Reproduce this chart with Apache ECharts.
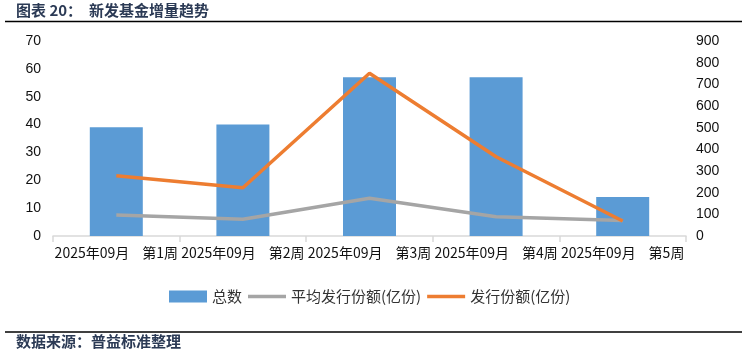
<!DOCTYPE html>
<html>
<head>
<meta charset="utf-8">
<script src="https://cdn.jsdelivr.net/npm/echarts@6/dist/echarts.min.js"></script>
<style>
  html, body { margin: 0; padding: 0; background: #fff; }
  #box { width: 747px; height: 353px; }
</style>
</head>
<body>
<div id="box"></div>
<script>
// 新发基金增量趋势 --------------------------------------------------
var months = ['2025年09月', '2025年09月', '2025年09月', '2025年09月', '2025年09月'];
var weeks = ['第1周', '第2周', '第3周', '第4周', '第5周'];
var fundCount = [39, 40, 57, 57, 14];          // 总数 (左轴)
var avgShares = [97, 77, 174, 89, 72];         // 平均发行份额(亿份) (右轴)
var totalShares = [278, 223, 751, 366, 69];    // 发行份额(亿份) (右轴)
var categories = months.map(function (m, i) { return m + '|' + weeks[i]; });

var lineIcon = 'path://M0,0 L38,0 L38,3.5 L0,3.5 Z'; // 图例中的线段

var myChart = echarts.init(document.getElementById('box'));
var option = {
    animation: false,
    grid: { left: 53, right: 61, top: 41, bottom: 117 },
    graphic: [
        { type: 'text', left: 16, top: 3, style: { text: '图表 20：', font: 'bold 15px "Noto Sans CJK SC"', fill: '#2b3a55' } },
        { type: 'text', left: 89, top: 3, style: { text: '新发基金增量趋势', font: 'bold 15px "Noto Sans CJK SC"', fill: '#2b3a55' } },
        { type: 'line', shape: { x1: 5, y1: 21.5, x2: 742, y2: 21.5 }, style: { stroke: '#000', lineWidth: 1.5 } },
        { type: 'line', shape: { x1: 5, y1: 332, x2: 742, y2: 332 }, style: { stroke: '#000', lineWidth: 1.5 } },
        { type: 'text', left: 16, top: 334, style: { text: '数据来源：普益标准整理', font: 'bold 15px "Noto Sans CJK SC"', fill: '#2b3a55' } }
    ],
    legend: {
        left: 164,
        top: 284,
        itemWidth: 38,
        itemHeight: 12,
        itemGap: 6,
        symbolKeepAspect: true,
        textStyle: { fontFamily: '"Noto Sans CJK SC"', fontSize: 15, color: '#333' },
        data: [
            { name: '总数', icon: 'rect' },
            { name: '平均发行份额(亿份)', icon: lineIcon },
            { name: '发行份额(亿份)', icon: lineIcon }
        ]
    },
    xAxis: {
        type: 'category',
        data: categories,
        axisLine: { lineStyle: { color: '#d9d9d9', width: 1.5 } },
        axisTick: { show: true, length: 6, lineStyle: { color: '#d9d9d9', width: 1.5 } },
        axisLabel: {
            interval: 0,
            margin: 10,
            formatter: function (v) {
                var p = v.split('|');
                return '{a|' + p[0] + '}{b|' + p[1] + '}';
            },
            rich: {
                a: { fontFamily: '"Noto Sans CJK SC"', fontSize: 14, color: '#111' },
                b: { fontFamily: '"Noto Sans CJK SC"', fontSize: 14, color: '#111', padding: [0, 0, 0, 13] }
            }
        }
    },
    yAxis: [
        {
            type: 'value',
            min: 0, max: 70, interval: 10,
            axisLine: { show: false },
            axisTick: { show: false },
            splitLine: { show: false },
            axisLabel: { margin: 12, fontFamily: '"Liberation Sans"', fontSize: 14, color: '#111' }
        },
        {
            type: 'value',
            min: 0, max: 900, interval: 100,
            axisLine: { show: false },
            axisTick: { show: false },
            splitLine: { show: false },
            axisLabel: { margin: 10, fontFamily: '"Liberation Sans"', fontSize: 14, color: '#111' }
        }
    ],
    series: [
        {
            name: '总数',
            type: 'bar',
            yAxisIndex: 0,
            barWidth: 53,
            itemStyle: { color: '#5b9bd5' },
            data: fundCount
        },
        {
            name: '平均发行份额(亿份)',
            type: 'line',
            yAxisIndex: 1,
            symbol: 'none',
            lineStyle: { color: '#a5a5a5', width: 3.5 },
            itemStyle: { color: '#a5a5a5' },
            data: avgShares
        },
        {
            name: '发行份额(亿份)',
            type: 'line',
            yAxisIndex: 1,
            symbol: 'none',
            lineStyle: { color: '#ed7d31', width: 3.5 },
            itemStyle: { color: '#ed7d31' },
            data: totalShares
        }
    ]
};

option && myChart.setOption(option);
</script>
</body>
</html>
